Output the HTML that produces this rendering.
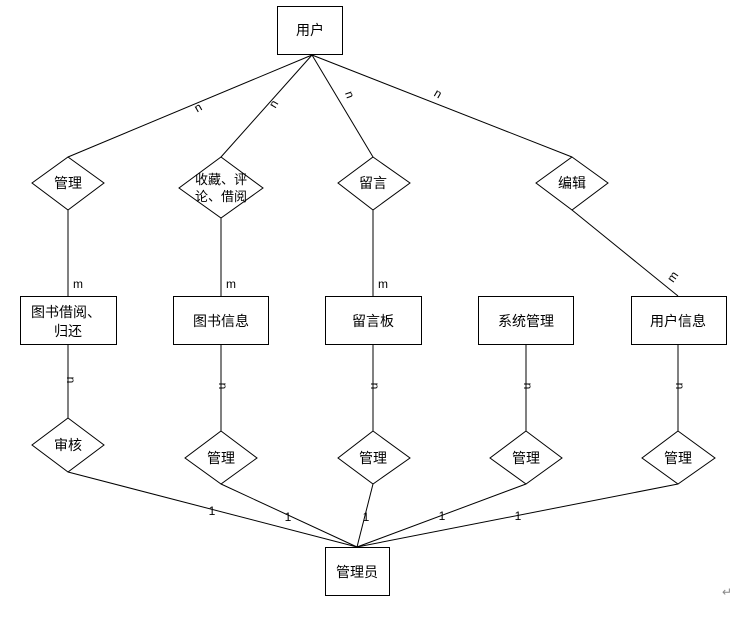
<!DOCTYPE html>
<html><head><meta charset="utf-8"><style>
body{margin:0;background:#fff}
text{font-family:"Liberation Sans","Noto Sans CJK SC",sans-serif;font-size:14px;fill:#000}
.s{font-size:12px}
</style></head><body>
<svg width="743" height="612" xmlns="http://www.w3.org/2000/svg">
<g stroke="#000" stroke-width="1" fill="none">
<!-- top lines -->
<line x1="312" y1="55" x2="68" y2="157"/>
<line x1="312" y1="55" x2="221" y2="157"/>
<line x1="312" y1="55" x2="373" y2="157"/>
<line x1="312" y1="55" x2="572" y2="157"/>
<line x1="68" y1="210" x2="68" y2="296"/>
<line x1="221" y1="218" x2="221" y2="296"/>
<line x1="373" y1="210" x2="373" y2="296"/>
<line x1="572" y1="210" x2="678" y2="296"/>
<line x1="68" y1="344" x2="68" y2="418"/>
<line x1="221" y1="344" x2="221" y2="431"/>
<line x1="373" y1="344" x2="373" y2="431"/>
<line x1="526" y1="344" x2="526" y2="431"/>
<line x1="678" y1="344" x2="678" y2="431"/>
<line x1="68" y1="472" x2="357" y2="547"/>
<line x1="221" y1="484" x2="357" y2="547"/>
<line x1="373" y1="484" x2="357" y2="547"/>
<line x1="526" y1="484" x2="357" y2="547"/>
<line x1="678" y1="484" x2="357" y2="547"/>
</g>
<g stroke="#000" stroke-width="1" fill="#fff">
<rect x="277.5" y="6.5" width="65" height="48"/>
<polygon points="68,157 104,183 68,210 32,183"/>
<polygon points="221,157 263,188 221,218 179,188"/>
<polygon points="373,157 410,183 373,210 338,183"/>
<polygon points="572,157 608,183 572,210 536,183"/>
<rect x="20.5" y="296.5" width="96" height="48"/>
<rect x="173.5" y="296.5" width="95" height="48"/>
<rect x="325.5" y="296.5" width="96" height="48"/>
<rect x="478.5" y="296.5" width="95" height="48"/>
<rect x="631.5" y="296.5" width="95" height="48"/>
<polygon points="68,418 104,445 68,472 32,445"/>
<polygon points="221,431 257,458 221,484 185,458"/>
<polygon points="373,431 410,458 373,484 338,458"/>
<polygon points="526,431 562,458 526,484 490,458"/>
<polygon points="678,431 715,458 678,484 642,458"/>
<rect x="325.5" y="547.5" width="64" height="48"/>
</g>
<g text-anchor="middle">
<text x="310" y="35">用户</text>
<text x="68" y="188">管理</text>
<text x="221" y="184" style="font-size:13px">收藏、评</text>
<text x="221" y="201" style="font-size:13px">论、借阅</text>
<text x="373" y="188">留言</text>
<text x="572" y="188">编辑</text>
<text x="66" y="317">图书借阅、</text>
<text x="68" y="336">归还</text>
<text x="221" y="326">图书信息</text>
<text x="373" y="326">留言板</text>
<text x="526" y="326">系统管理</text>
<text x="678" y="326">用户信息</text>
<text x="68" y="450">审核</text>
<text x="221" y="463">管理</text>
<text x="373" y="463">管理</text>
<text x="526" y="463">管理</text>
<text x="678" y="463">管理</text>
<text x="357" y="577">管理员</text>
</g>
<g class="s" text-anchor="middle">
<text class="s" transform="translate(200,111) rotate(-30)">n</text>
<text class="s" transform="translate(277,106) rotate(-60)">n</text>
<text class="s" transform="translate(346,96) rotate(70)">n</text>
<text class="s" transform="translate(436,97) rotate(30)">n</text>
<text class="s" x="78" y="288">m</text>
<text class="s" x="231" y="288">m</text>
<text class="s" x="383" y="288">m</text>
<text class="s" transform="translate(676,279) rotate(-55)">m</text>
<text class="s" transform="translate(67,380) rotate(90)">n</text>
<text class="s" transform="translate(219,386) rotate(90)">n</text>
<text class="s" transform="translate(371,386) rotate(90)">n</text>
<text class="s" transform="translate(524,386) rotate(90)">n</text>
<text class="s" transform="translate(676,386) rotate(90)">n</text>
<text class="s" x="212" y="515">1</text>
<text class="s" x="288" y="521">1</text>
<text class="s" x="366" y="521">1</text>
<text class="s" x="442" y="520">1</text>
<text class="s" x="518" y="520">1</text>
</g>
<text x="722" y="596" style="font-size:12px;fill:#888">↵</text>
</svg>
</body></html>
